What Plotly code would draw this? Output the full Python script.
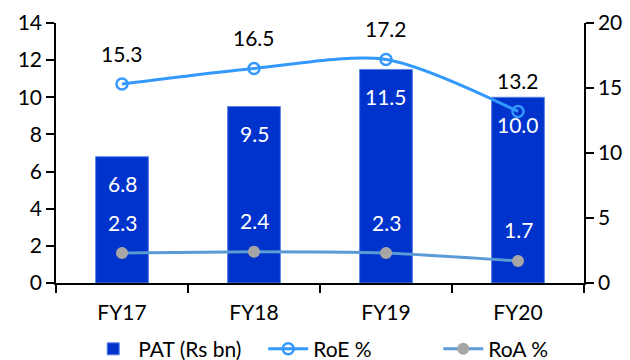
import plotly.graph_objects as go

years = ["FY17", "FY18", "FY19", "FY20"]
pat = [6.8, 9.5, 11.5, 10.0]
roe = [15.3, 16.5, 17.2, 13.2]
roa = [2.3, 2.4, 2.3, 1.7]

FONT = "Lato"
fig = go.Figure()

fig.add_trace(go.Bar(
    x=years, y=pat, name="PAT (Rs bn)", yaxis="y",
    marker=dict(color="#0033CC", line=dict(color="#5b82e6", width=1)),
    width=0.4,
))
fig.add_trace(go.Scatter(
    x=years, y=roe, name="RoE %", yaxis="y2", mode="lines+markers",
    line=dict(color="#3399FF", width=3, shape="spline", smoothing=0.8),
    marker=dict(symbol="circle-open", size=11, color="#3399FF", line=dict(width=2.5)),
))
fig.add_trace(go.Scatter(
    x=years, y=roa, name="RoA %", yaxis="y2", mode="lines+markers",
    line=dict(color="#5B9BD5", width=3, shape="spline", smoothing=0.5),
    marker=dict(symbol="circle", size=12, color="#A6A6A6"),
))

annotations = []
for x, v in zip(years, pat):
    annotations.append(dict(x=x, y=v, yref="y", text=f"{v:.1f}", showarrow=False,
                            yshift=-27, font=dict(color="white", size=21, family=FONT)))
for x, v in zip(years, roe):
    annotations.append(dict(x=x, y=v, yref="y2", text=f"{v:.1f}", showarrow=False,
                            yshift=31, font=dict(color="black", size=21, family=FONT)))
for x, v in zip(years, roa):
    annotations.append(dict(x=x, y=v, yref="y2", text=f"{v:.1f}", showarrow=False,
                            yshift=31, font=dict(color="white", size=21, family=FONT)))

axis_style = dict(showline=True, linecolor="black", linewidth=1.5, ticks="outside",
                  ticklen=8, tickcolor="black", tickwidth=1.5, showgrid=False,
                  zeroline=False, automargin=False)

fig.update_layout(
    width=630, height=360,
    margin=dict(l=56, r=46, t=23, b=77),
    plot_bgcolor="white", paper_bgcolor="white",
    font=dict(family=FONT, size=21, color="black"),
    showlegend=True,
    legend=dict(orientation="h", x=0.14, xanchor="left", xref="container",
                y=0.03, yanchor="middle", yref="container",
                font=dict(size=21, family=FONT), itemwidth=40,
                entrywidth=120, traceorder="normal"),
    xaxis=dict(tickson="boundaries", ticklabelstandoff=10, **axis_style),
    yaxis=dict(range=[0, 14], dtick=2, **axis_style),
    yaxis2=dict(range=[0, 20], dtick=5, overlaying="y", side="right", **axis_style),
    annotations=annotations,
)

fig.write_html("out.html")
